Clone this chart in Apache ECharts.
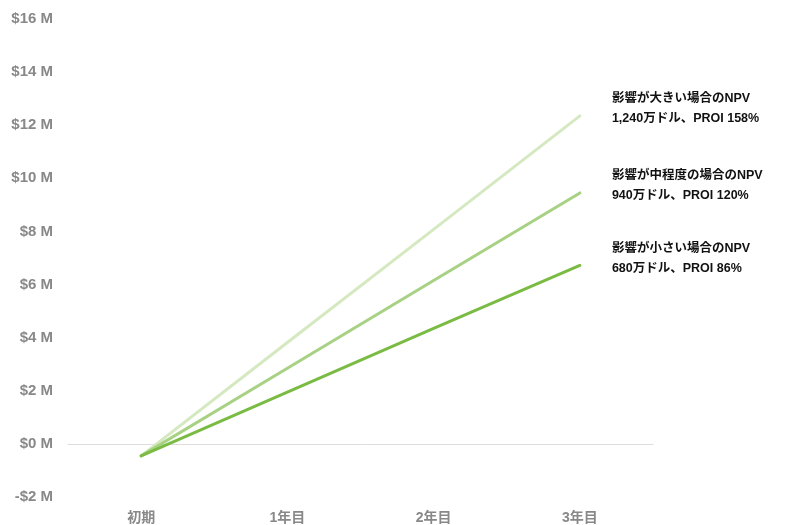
<!DOCTYPE html>
<html><head><meta charset="utf-8">
<script src="https://cdn.jsdelivr.net/npm/echarts@6/dist/echarts.min.js"></script>
<style>html,body{margin:0;padding:0;background:#fff}#c{width:796px;height:525px}</style>
</head><body><div id="c"></div>
<script>
const categories = ['初期', '1年目', '2年目', '3年目'];
const highValues = [-0.45, 3.82, 8.08, 12.35];
const midValues = [-0.45, 2.85, 6.15, 9.45];
const lowValues = [-0.45, 1.95, 4.35, 6.72];
const highLabel = ['影響が大きい場合のNPV', '1,240万ドル、PROI 158%'];
const midLabel = ['影響が中程度の場合のNPV', '940万ドル、PROI 120%'];
const lowLabel = ['影響が小さい場合のNPV', '680万ドル、PROI 86%'];
const yTicks = { min: -2, max: 16, interval: 2 };

const font = '"Liberation Sans", "Noto Sans CJK JP", sans-serif';
function mk(name, data, color, lbl) {
  return {
    name, type: 'line', data, symbol: 'none', z: 3,
    lineStyle: { color, width: 3, cap: 'round' },
    endLabel: {
      show: true, formatter: lbl.join('\n'), offset: [24, -7],
      color: '#111', fontSize: 12.5, fontWeight: 'bold', fontFamily: font, lineHeight: 20, align: 'left'
    }
  };
}
const chart = echarts.init(document.getElementById('c'));
chart.setOption({
  animation: false,
  grid: { left: 68, top: 19, width: 585, bottom: 28, containLabel: false },
  xAxis: {
    type: 'category', data: categories, boundaryGap: true,
    axisLine: { onZero: true, lineStyle: { color: '#ddd', width: 1 } },
    axisTick: { show: false },
    axisLabel: { color: '#888', fontWeight: 'bold', fontSize: 14, fontFamily: font, margin: 14 }
  },
  yAxis: {
    type: 'value', min: yTicks.min, max: yTicks.max, interval: yTicks.interval,
    splitLine: { show: false }, axisLine: { show: false }, axisTick: { show: false },
    axisLabel: { color: '#888', fontWeight: 'bold', fontSize: 15, fontFamily: font, margin: 15,
      formatter: v => (v < 0 ? '-$' + Math.abs(v) : '$' + v) + ' M' }
  },
  series: [
    mk('high', highValues, '#d5e9c1', highLabel),
    mk('mid', midValues, '#a8d283', midLabel),
    mk('low', lowValues, '#7abc43', lowLabel)
  ]
});
</script></body></html>
